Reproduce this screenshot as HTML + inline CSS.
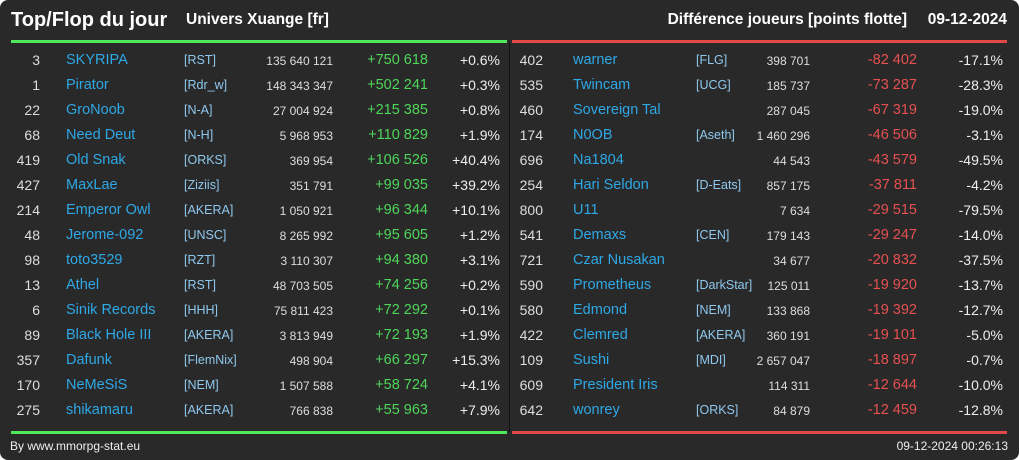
<!DOCTYPE html>
<html><head><meta charset="utf-8"><style>
html,body{margin:0;padding:0;background:#fff}
#card{position:relative;width:1019px;height:460px;background:#292929;border-radius:8px;overflow:hidden;font-family:"Liberation Sans",sans-serif;color:#eee}
.a{position:absolute;white-space:nowrap;line-height:1}
.r{text-align:right}
.nm{color:#2ea8e6;font-size:14.5px}
.tg{color:#8fc8ee;font-size:12.5px}
.tot{color:#ddd;font-size:12px}
.rk{color:#ddd;font-size:14px}
.pc{color:#eee;font-size:14px}
.up{color:#4fd65a;font-size:14.5px}
.dn{color:#e65050;font-size:14.5px}
</style></head><body>
<div id="card">
<div class="a" style="left:11px;top:10px;font-size:20px;font-weight:bold;color:#fff">Top/Flop du jour</div>
<div class="a" style="left:186px;top:12px;font-size:15.5px;font-weight:bold;color:#fff">Univers Xuange [fr]</div>
<div class="a r" style="right:112px;top:12px;font-size:15.5px;font-weight:bold;color:#fff">Différence joueurs [points flotte]</div>
<div class="a r" style="right:12px;top:12px;font-size:15.5px;font-weight:bold;color:#fff">09-12-2024</div>
<div class="a" style="left:11px;top:40px;width:496px;height:3px;background:#4ee85a"></div>
<div class="a" style="left:512px;top:40px;width:495px;height:3px;background:#e24a4a"></div>
<div class="a" style="left:509px;top:43px;width:1px;height:389px;background:#111"></div>
<div class="a" style="left:11px;top:431px;width:496px;height:3px;background:#4ee85a"></div>
<div class="a" style="left:512px;top:431px;width:495px;height:3px;background:#e24a4a"></div>
<div class="a" style="left:10px;top:440px;font-size:12px;color:#eee">By www.mmorpg-stat.eu</div>
<div class="a r" style="right:11px;top:440px;font-size:12px;color:#eee">09-12-2024 00:26:13</div>
</div>
<script>
const topRanks=[3,1,22,68,419,427,214,48,98,13,6,89,357,170,275];
const topNames=["SKYRIPA","Pirator","GroNoob","Need Deut","Old Snak","MaxLae","Emperor Owl","Jerome-092","toto3529","Athel","Sinik Records","Black Hole III","Dafunk","NeMeSiS","shikamaru"];
const topTags=["[RST]","[Rdr_w]","[N-A]","[N-H]","[ORKS]","[Ziziis]","[AKERA]","[UNSC]","[RZT]","[RST]","[HHH]","[AKERA]","[FlemNix]","[NEM]","[AKERA]"];
const topTotals=["135 640 121","148 343 347","27 004 924","5 968 953","369 954","351 791","1 050 921","8 265 992","3 110 307","48 703 505","75 811 423","3 813 949","498 904","1 507 588","766 838"];
const topDiffs=["+750 618","+502 241","+215 385","+110 829","+106 526","+99 035","+96 344","+95 605","+94 380","+74 256","+72 292","+72 193","+66 297","+58 724","+55 963"];
const topPcts=["+0.6%","+0.3%","+0.8%","+1.9%","+40.4%","+39.2%","+10.1%","+1.2%","+3.1%","+0.2%","+0.1%","+1.9%","+15.3%","+4.1%","+7.9%"];
const flopRanks=[402,535,460,174,696,254,800,541,721,590,580,422,109,609,642];
const flopNames=["warner","Twincam","Sovereign Tal","N0OB","Na1804","Hari Seldon","U11","Demaxs","Czar Nusakan","Prometheus","Edmond","Clemred","Sushi","President Iris","wonrey"];
const flopTags=["[FLG]","[UCG]","","[Aseth]","","[D-Eats]","","[CEN]","","[DarkStar]","[NEM]","[AKERA]","[MDI]","","[ORKS]"];
const flopTotals=["398 701","185 737","287 045","1 460 296","44 543","857 175","7 634","179 143","34 677","125 011","133 868","360 191","2 657 047","114 311","84 879"];
const flopDiffs=["-82 402","-73 287","-67 319","-46 506","-43 579","-37 811","-29 515","-29 247","-20 832","-19 920","-19 392","-19 101","-18 897","-12 644","-12 459"];
const flopPcts=["-17.1%","-28.3%","-19.0%","-3.1%","-49.5%","-4.2%","-79.5%","-14.0%","-37.5%","-13.7%","-12.7%","-5.0%","-0.7%","-10.0%","-12.8%"];
const card=document.getElementById('card');
function cell(cls,text,x,y,right,name,inter){
  const d=document.createElement('div');
  d.className='a '+cls+(right?' r':'');
  d.textContent=text;
  d.style.top=y+'px';
  if(right){d.style.right=(1019-x)+'px';}else{d.style.left=x+'px';}
  
  
  card.appendChild(d);
}
function side(ranks,names,tags,totals,diffs,pcts,c,prefix,dcls){
  for(let i=0;i<ranks.length;i++){
    const y=53+i*25;
    cell('rk',String(ranks[i]),c[0],y,true,prefix+'-rank',false);
    cell('nm',names[i],c[1],y,false,prefix+'-player-name',true);
    if(tags[i]) cell('tg',tags[i],c[2],y+1,false,prefix+'-alliance-tag',true);
    cell('tot',totals[i],c[3],y+2,true,prefix+'-total-points',false);
    cell(dcls,diffs[i],c[4],y,true,prefix+'-difference',false);
    cell('pc',pcts[i],c[5],y,true,prefix+'-percent',false);
  }
}
side(topRanks,topNames,topTags,topTotals,topDiffs,topPcts,[40,66,184,333,428,500],'top','up');
side(flopRanks,flopNames,flopTags,flopTotals,flopDiffs,flopPcts,[543,573,696,810,917,1003],'flop','dn');
</script>
</body></html>
